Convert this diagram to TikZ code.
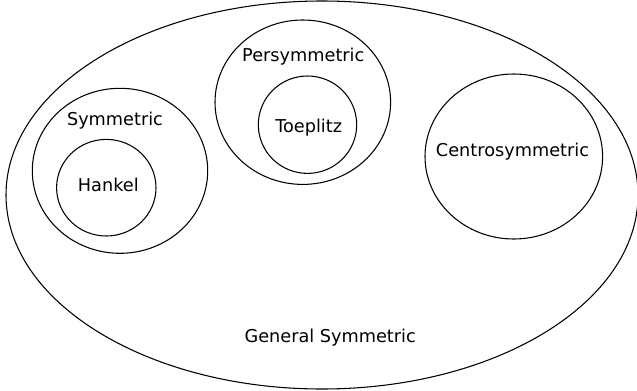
\documentclass[tikz,border=0pt]{standalone}
\usepackage{fontspec}
\setmainfont{DejaVu Sans}
\usetikzlibrary{shapes.geometric,positioning}
\tikzset{
	ring/.style 2 args={ellipse,draw,inner sep=0,outer sep=0,line width=0.6pt,minimum width=#1*0.565pt,minimum height=#2*0.565pt},
	setlabel/.style={anchor=base,inner sep=0,font=\fontsize{10}{12}\selectfont}
}
\begin{document}
\begin{tikzpicture}[x=0.565pt,y=0.565pt]
		\useasboundingbox (0,0) rectangle (637,390);
		%%%general
		\node[ring={632}{388}] (gen) at (322,195) {};
		\node[setlabel] (genlab) at (330.2,47.3) {General Symmetric};
		%%%symmetric
		\node[ring={175.4}{165}] (sym) at (120,219.2) {};
		\node[ring={99.4}{96.6}] (han) at (106.3,202.3) {};
		\node[setlabel] (symlab) at (115,264.5) {Symmetric};
		\node[setlabel] (hanlab) at (108.3,199) {Hankel};
		%%%persymmetric
		\node[ring={175.6}{164.4}] (per) at (302.8,287.8) {};
		\node[ring={98.4}{97.4}] (toe) at (307.5,265.3) {};
		\node[setlabel] (perlab) at (303.3,328.3) {Persymmetric};
		\node[setlabel] (toelab) at (308.7,257.3) {Toeplitz};
		%%%centrosymmetric
		\node[ring={177.6}{165}] (cen) at (513.8,233.5) {};
		\node[setlabel] (cenlab) at (512.5,234) {Centrosymmetric};
	\end{tikzpicture}
\end{document}
